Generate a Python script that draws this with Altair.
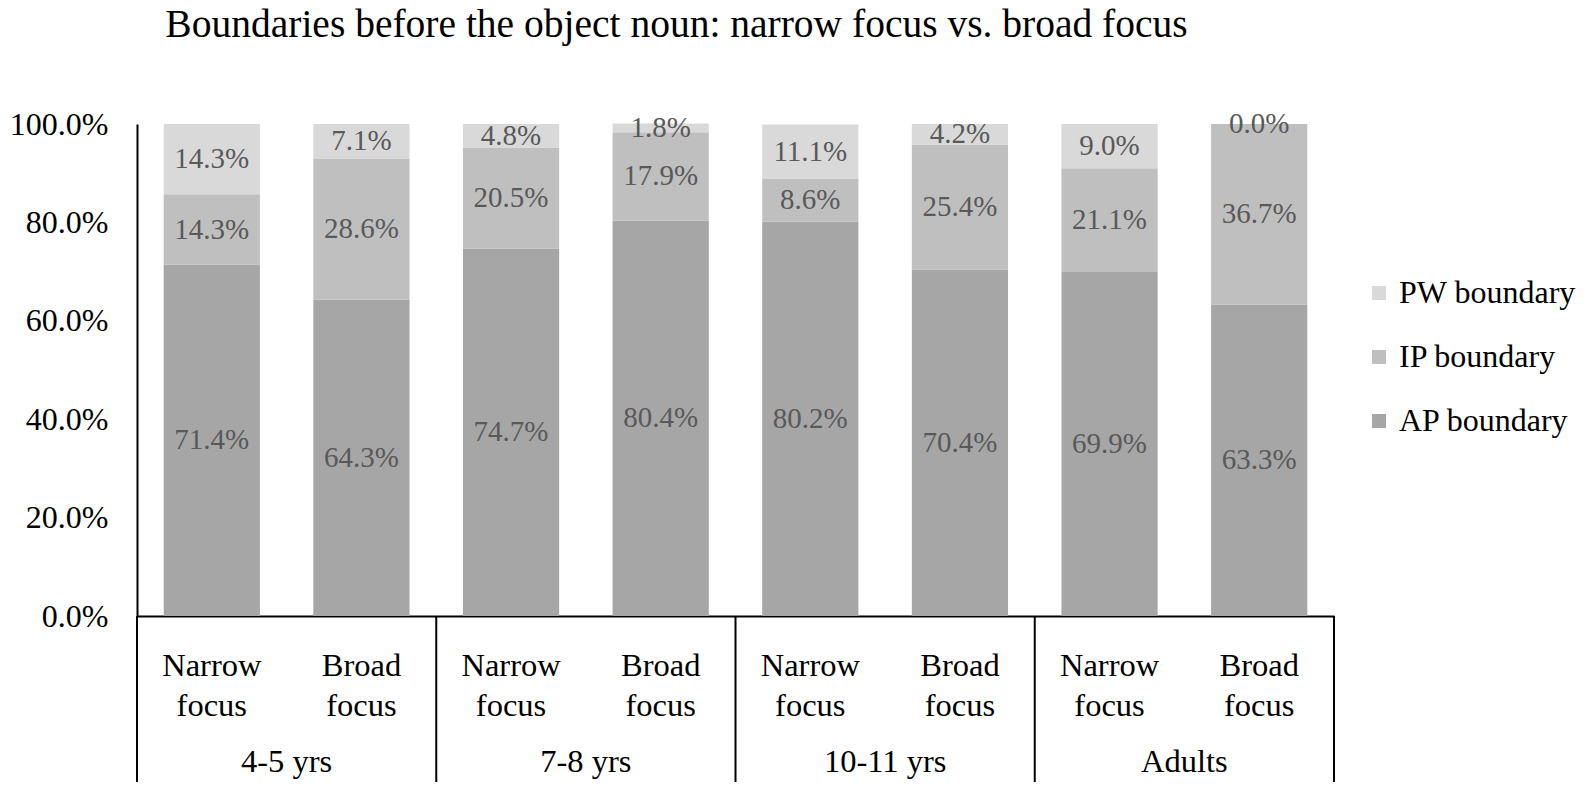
import altair as alt
import pandas as pd

groups = ["4-5 yrs", "7-8 yrs", "10-11 yrs", "Adults"]
conditions = ["Narrow focus", "Broad focus"]
series = ["PW boundary", "IP boundary", "AP boundary"]
ap = [71.4, 64.3, 74.7, 80.4, 80.2, 70.4, 69.9, 63.3]
ip = [14.3, 28.6, 20.5, 17.9, 8.6, 25.4, 21.1, 36.7]
pw = [14.3, 7.1, 4.8, 1.8, 11.1, 4.2, 9.0, 0.0]
colors = ["#d9d9d9", "#bfbfbf", "#a6a6a6"]

keys = [g + "|" + c for g in groups for c in conditions]
rows = []
for i, k in enumerate(keys):
    for ordv, (s, vals) in enumerate([("AP boundary", ap), ("IP boundary", ip), ("PW boundary", pw)]):
        rows.append({"key": k, "series": s, "ord": ordv, "val": vals[i]})
df = pd.DataFrame(rows)

grp_df = pd.DataFrame({"key": [g + "|" + conditions[0] for g in groups], "label": groups})
last_df = pd.DataFrame({"key": [keys[-1]]})

FONT = "Liberation Serif"
W, H = 1197, 492

def xenc(bp=None):
    kw = {}
    if bp is not None:
        kw["bandPosition"] = bp
    return alt.X(
        "key:N",
        sort=keys,
        scale=alt.Scale(domain=keys, paddingInner=0, paddingOuter=0),
        axis=alt.Axis(
            title=None,
            labelExpr="split(split(datum.label, '|')[1], ' ')",
            labelAngle=0,
            ticks=False,
            domainColor="black",
            domainWidth=2,
            labelFont=FONT,
            labelFontSize=32.5,
            labelColor="black",
            labelLineHeight=40,
            labelPadding=33,
            labelLimit=300,
        ),
        **kw,
    )

yscale = alt.Scale(domain=[0, 100])
yaxis = alt.Axis(
    title=None,
    values=[0, 20, 40, 60, 80, 100],
    labelExpr="format(datum.value / 100, '.1%')",
    grid=False,
    ticks=False,
    domainColor="black",
    domainWidth=2,
    labelFont=FONT,
    labelFontSize=32,
    labelColor="black",
    labelPadding=29,
)

base = alt.Chart(df).transform_stack(
    stack="val", groupby=["key"], as_=["v0", "v1"], sort=[alt.SortField("ord", order="ascending")]
).transform_calculate(
    mid="(datum.v0 + datum.v1) / 2",
    lab="format(datum.val / 100, '.1%')",
)

bars = base.mark_bar(width={"band": 0.643}).encode(
    x=xenc(),
    y=alt.Y("v0:Q", scale=yscale, axis=yaxis),
    y2="v1:Q",
    color=alt.Color(
        "series:N",
        scale=alt.Scale(domain=series, range=colors),
        legend=alt.Legend(
            title=None,
            orient="none",
            legendX=1226,
            legendY=153,
            symbolType="square",
            symbolSize=196,
            symbolStrokeWidth=0,
            labelFont=FONT,
            labelFontSize=32,
            labelColor="black",
            labelLimit=400,
            rowPadding=32,
            labelOffset=4,
            padding=0,
        ),
    ),
)

labels = base.mark_text(font=FONT, fontSize=29, color="#595959").encode(
    x=xenc(),
    y=alt.Y("mid:Q", scale=yscale, axis=yaxis),
    text="lab:N",
)

sep = alt.Chart(grp_df).mark_rule(color="black", strokeWidth=2).encode(
    x=xenc(0), y=alt.value(H), y2=alt.value(H + 166)
)
sep_last = alt.Chart(last_df).mark_rule(color="black", strokeWidth=2).encode(
    x=xenc(1), y=alt.value(H), y2=alt.value(H + 166)
)
grp_text = alt.Chart(grp_df).mark_text(
    font=FONT, fontSize=32.5, color="black", baseline="alphabetic"
).encode(x=xenc(1), y=alt.value(648), text="label:N")

chart = alt.layer(bars, labels, sep, sep_last, grp_text).properties(
    width=W,
    height=H,
    title=alt.TitleParams(
        text="Boundaries before the object noun: narrow focus vs. broad focus",
        font=FONT,
        fontSize=39.5,
        fontWeight="normal",
        color="black",
        anchor="middle",
        baseline="alphabetic",
        dx=-59,
        offset=32,
    ),
    autosize=alt.AutoSizeParams(type="none"),
    padding={"left": 129, "top": 116, "right": 253, "bottom": 170},
).configure_view(stroke=None)

chart.save("out.html", embed_options={"renderer": "svg", "actions": False})
